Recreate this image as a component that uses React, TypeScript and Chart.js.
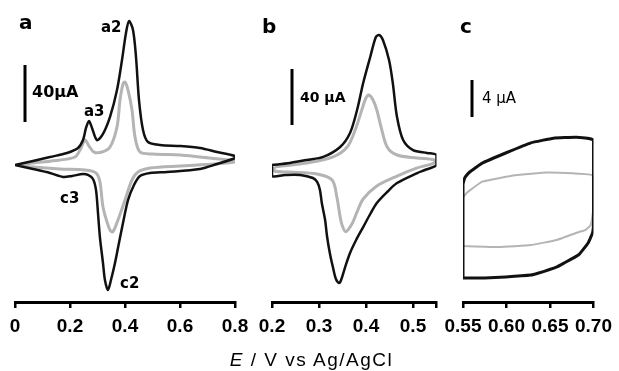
import React, { useEffect, useRef } from "react";
import { Chart, registerables } from "chart.js";

Chart.register(...registerables);

// ---------- Panel a (E in V, current in µA) ----------
const aTicks = [0, 0.2, 0.4, 0.6, 0.8];
const aTickLabels = ["0", "0.2", "0.4", "0.6", "0.8"];
const aBlackE = [0, 0.0655, 0.1273, 0.1891, 0.2291, 0.2473, 0.2582, 0.2691, 0.28, 0.2982, 0.32, 0.3455, 0.3709, 0.3891, 0.4036, 0.4145, 0.4291, 0.44, 0.4509, 0.4655, 0.4836, 0.5273, 0.6, 0.6727, 0.7345, 0.8,
  0.8, 0.7345, 0.6727, 0.5527, 0.4909, 0.4545, 0.4327, 0.4109, 0.3927, 0.378, 0.3636, 0.349, 0.338, 0.327, 0.32, 0.309, 0.3018, 0.2945, 0.2836, 0.2655, 0.2473, 0.2073, 0.1745, 0.1273, 0.0655, 0];
const aBlackI = [0, 2.8, 5.6, 8.4, 11.9, 17.5, 26, 30.9, 26, 17.5, 21.8, 33.7, 52.6, 73.7, 92.6, 101, 94.7, 75.8, 45.6, 24.6, 16.1, 14, 13.3, 11.9, 9.1, 6.3,
  4.9, 0.7, -2.8, -4.9, -5.6, -7.7, -14, -24.6, -40.7, -54.7, -68.8, -80.7, -87.7, -80.7, -68.8, -51.2, -33.7, -17.5, -9.8, -7, -6.3, -7.7, -8.4, -5.6, -2.8, 0];
const aGreyE = [0.005, 0.0655, 0.1636, 0.2182, 0.2364, 0.2545, 0.2691, 0.2873, 0.3164, 0.3455, 0.3709, 0.3818, 0.3927, 0.4, 0.4109, 0.4255, 0.4364, 0.4545, 0.5018, 0.6, 0.6727, 0.7818, 0.8,
  0.8, 0.7273, 0.6, 0.4909, 0.4473, 0.4255, 0.4, 0.3745, 0.36, 0.3527, 0.342, 0.32, 0.309, 0.2945, 0.2545, 0.1636, 0.0655, 0.005];
const aGreyI = [0, 1.4, 3.5, 5.6, 10.5, 17.5, 13.3, 9.1, 9.1, 12.6, 26.7, 45.6, 56.8, 58.2, 52.6, 38.6, 19.6, 9.1, 7.7, 7, 5.6, 3.5, 2.8,
  2.1, 0.7, -0.7, -2.1, -4.9, -10.5, -24.6, -38.6, -45.6, -47, -44.2, -29.5, -11.9, -5.6, -3.5, -2.8, -1.4, 0];

// ---------- Panel b ----------
const bTicks = [0.2, 0.3, 0.4, 0.5, 0.55];
const bTickLabels = ["0.2", "0.3", "0.4", "0.5", ""];
const bBlackE = [0.2, 0.238, 0.274, 0.309, 0.345, 0.366, 0.381, 0.394, 0.409, 0.421, 0.428, 0.436, 0.449, 0.457, 0.466, 0.479, 0.5, 0.53, 0.55,
  0.55, 0.525, 0.509, 0.466, 0.445, 0.423, 0.409, 0.394, 0.379, 0.366, 0.355, 0.347, 0.343, 0.336, 0.33, 0.323, 0.317, 0.313, 0.306, 0.302, 0.296, 0.287, 0.26, 0.228, 0.2, 0.2];
const bBlackI = [3.6, 5.1, 7.3, 9.5, 16.7, 26.9, 43.6, 63.3, 82.2, 96.7, 98.2, 94.5, 80, 63.3, 38.5, 21.8, 14.5, 12.4, 10.9,
  3.6, 0, -2.2, -9.5, -16, -24, -32, -41.5, -50.9, -60.4, -71.3, -80, -82.2, -79.3, -71.3, -60.4, -48, -36.4, -24, -14.5, -8.7, -5.8, -3.6, -3.6, -4.4, 3.6];
const bGreyE = [0.205, 0.274, 0.33, 0.36, 0.377, 0.391, 0.4, 0.406, 0.415, 0.423, 0.432, 0.445, 0.466, 0.509, 0.545,
  0.545, 0.509, 0.466, 0.423, 0.394, 0.381, 0.37, 0.357, 0.349, 0.345, 0.338, 0.328, 0.296, 0.238, 0.205, 0.205];
const bGreyI = [2.2, 5.1, 9.5, 16.7, 29.1, 43.6, 52.4, 54.5, 50.9, 43.6, 31.3, 16.7, 10.9, 8.7, 7.3,
  5.1, 1.5, -4.4, -11.6, -21.1, -30.5, -39.3, -44.9, -40, -34.2, -19.6, -7.3, -2.9, -1.5, -0.7, 2.2];

// ---------- Panel c ----------
const cTicks = [0.55, 0.6, 0.65, 0.7];
const cTickLabels = ["0.55", "0.60", "0.65", "0.70"];
const cBlackE = [0.55, 0.55, 0.552, 0.556, 0.56, 0.572, 0.599, 0.628, 0.654, 0.68, 0.7, 0.7, 0.699, 0.694, 0.683, 0.666, 0.658, 0.636, 0.628, 0.599, 0.575, 0.55];
const cBlackI = [-5.5, 4.6, 5.3, 5.8, 6.1, 6.9, 8.0, 9.1, 9.6, 9.7, 9.4, 0.4, -0.6, -1.7, -3.0, -3.9, -4.3, -5.0, -5.2, -5.4, -5.5, -5.5];
const cGreyE = [0.55, 0.55, 0.5535, 0.5556, 0.5722, 0.61, 0.6467, 0.6767, 0.6989, 0.7, 0.6989, 0.6967, 0.6911, 0.6833, 0.6578, 0.6278, 0.5911, 0.55];
const cGreyI = [-2.05, 3.2, 3.6, 3.8, 4.9, 5.6, 5.9, 5.8, 5.6, 2.5, 1.3, 0.2, -0.3, -0.54, -1.4, -1.95, -2.16, -2.05];

const BLACK = "#111111";
const GREY = "#b4b4b4";
const W = 619;
const H = 371;

type Note = { text: string; x: number; y: number; font: string };
type Bar = { x: number; y1: number; y2: number };

function pts(e: number[], i: number[]) {
  return e.map((v, k) => ({ x: v, y: i[k] }));
}

function makeConfig(opts: {
  blackE: number[]; blackI: number[]; greyE: number[]; greyI: number[];
  xmin: number; xmax: number; ymin: number; ymax: number;
  ticks: number[]; labels: string[];
  padLeft: number; padRight: number;
  blackW: number; greyW: number; tension: number;
  notes: Note[]; bars: Bar[];
}) {
  const overlay = {
    id: "overlay",
    afterDraw(chart: any) {
      const ctx = chart.ctx;
      ctx.save();
      ctx.fillStyle = "#000";
      ctx.textAlign = "left";
      ctx.textBaseline = "alphabetic";
      for (const n of opts.notes) {
        ctx.font = n.font;
        ctx.fillText(n.text, n.x, n.y);
      }
      ctx.strokeStyle = "#000";
      ctx.lineWidth = 3;
      for (const b of opts.bars) {
        ctx.beginPath();
        ctx.moveTo(b.x, b.y1);
        ctx.lineTo(b.x, b.y2);
        ctx.stroke();
      }
      ctx.restore();
    },
  };
  return {
    type: "scatter" as const,
    data: {
      datasets: [
        {
          data: pts(opts.blackE, opts.blackI),
          showLine: true,
          borderColor: BLACK,
          borderWidth: opts.blackW,
          pointRadius: 0,
          tension: opts.tension,
          fill: false,
        },
        {
          data: pts(opts.greyE, opts.greyI),
          showLine: true,
          borderColor: GREY,
          borderWidth: opts.greyW,
          pointRadius: 0,
          tension: opts.tension,
          fill: false,
        },
      ],
    },
    options: {
      animation: false as const,
      responsive: false,
      devicePixelRatio: 1,
      layout: { padding: { left: opts.padLeft, right: opts.padRight, top: 10, bottom: 29 } },
      plugins: { legend: { display: false }, tooltip: { enabled: false } },
      scales: {
        x: {
          type: "linear" as const,
          min: opts.xmin,
          max: opts.xmax,
          afterBuildTicks: (s: any) => {
            s.ticks = opts.ticks.map((v) => ({ value: v }));
          },
          afterFit: (s: any) => {
            s.height = 40;
          },
          grid: { display: true, drawOnChartArea: false, drawTicks: true, tickLength: 6, color: "#000", lineWidth: 2.5 },
          border: { display: true, color: "#000", width: 3 },
          ticks: {
            autoSkip: false,
            maxRotation: 0,
            padding: 7,
            color: "#000",
            font: { family: "'Liberation Sans', Arial, sans-serif", size: 19, weight: "bold" as const },
            callback: (_v: any, idx: number) => opts.labels[idx],
          },
        },
        y: {
          type: "linear" as const,
          display: false,
          min: opts.ymin,
          max: opts.ymax,
        },
      },
    },
    plugins: [overlay],
  };
}

const bold = (s: number) => `bold ${s}px 'DejaVu Sans', Verdana, sans-serif`;
const normal = (s: number) => `${s}px 'DejaVu Sans', Verdana, sans-serif`;

export default function App() {
  const ra = useRef<HTMLCanvasElement>(null);
  const rb = useRef<HTMLCanvasElement>(null);
  const rc = useRef<HTMLCanvasElement>(null);

  useEffect(() => {
    const ca = new Chart(ra.current as HTMLCanvasElement, makeConfig({
      blackE: aBlackE, blackI: aBlackI, greyE: aGreyE, greyI: aGreyI,
      xmin: 0, xmax: 0.8, ymin: -96.14, ymax: 108.77,
      ticks: aTicks, labels: aTickLabels,
      padLeft: 15, padRight: W - 235,
      blackW: 2.5, greyW: 3, tension: 0.3,
      notes: [
        { text: "a", x: 19, y: 29, font: bold(20) },
        { text: "a2", x: 101, y: 32, font: bold(15) },
        { text: "a3", x: 84, y: 116, font: bold(15) },
        { text: "40µA", x: 32, y: 97, font: bold(16) },
        { text: "c3", x: 60, y: 203, font: bold(15) },
        { text: "c2", x: 120, y: 288, font: bold(15) },
      ],
      bars: [{ x: 25, y1: 65, y2: 122 }],
    }) as any);
    const cb = new Chart(rb.current as HTMLCanvasElement, makeConfig({
      blackE: bBlackE, blackI: bBlackI, greyE: bGreyE, greyI: bGreyI,
      xmin: 0.2, xmax: 0.55, ymin: -96.0, ymax: 116.36,
      ticks: bTicks, labels: bTickLabels,
      padLeft: 272, padRight: W - 436.5,
      blackW: 2.5, greyW: 3, tension: 0.3,
      notes: [
        { text: "b", x: 262, y: 33, font: bold(20) },
        { text: "40 µA", x: 300, y: 102, font: bold(14) },
      ],
      bars: [{ x: 292, y1: 69, y2: 125 }],
    }) as any);
    const cc = new Chart(rc.current as HTMLCanvasElement, makeConfig({
      blackE: cBlackE, blackI: cBlackI, greyE: cGreyE, greyI: cGreyI,
      xmin: 0.55, xmax: 0.7, ymin: -8.108, ymax: 23.46,
      ticks: cTicks, labels: cTickLabels,
      padLeft: 463, padRight: W - 598,
      blackW: 3, greyW: 2, tension: 0.1,
      notes: [
        { text: "c", x: 460, y: 33, font: bold(20) },
        { text: "4 µA", x: 482, y: 103, font: normal(15) },
      ],
      bars: [{ x: 472, y1: 80, y2: 117 }],
    }) as any);
    return () => {
      ca.destroy();
      cb.destroy();
      cc.destroy();
    };
  }, []);

  const cs: React.CSSProperties = { position: "absolute", left: 0, top: 0 };
  return (
    <div style={{ position: "absolute", left: 0, top: 0, width: W, height: H, background: "#fff", overflow: "hidden" }}>
      <canvas ref={ra} width={W} height={H} style={cs} />
      <canvas ref={rb} width={W} height={H} style={cs} />
      <canvas ref={rc} width={W} height={H} style={cs} />
      <div
        style={{
          position: "absolute",
          left: 0,
          width: W,
          top: 349,
          textAlign: "center",
          paddingLeft: 4,
          boxSizing: "border-box",
          font: "19px 'Liberation Sans', Arial, sans-serif",
          letterSpacing: "1.5px",
          lineHeight: "22px",
          color: "#000",
          whiteSpace: "nowrap",
        }}
      >
        <i>E</i> / V vs Ag/AgCl
      </div>
    </div>
  );
}
